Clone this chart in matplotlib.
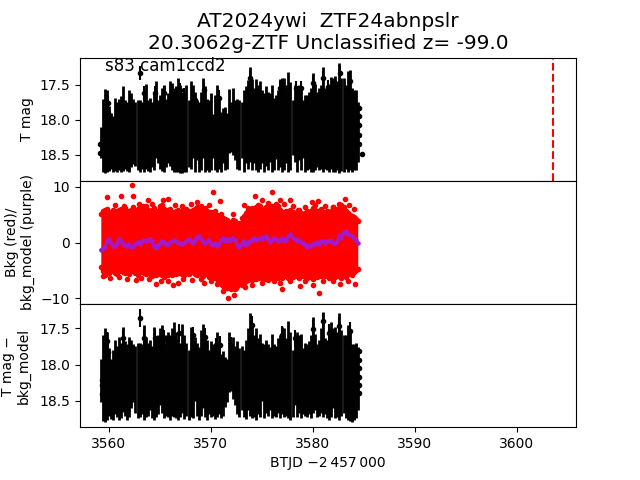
import matplotlib
matplotlib.use("Agg")
import matplotlib.pyplot as plt
import numpy as np

btjd = [
    3559.2, 3559.4, 3559.6, 3559.8, 3560.0, 3560.2, 3560.4, 3560.6, 3560.8, 3561.0,
    3561.2, 3561.4, 3561.6, 3561.8, 3562.0, 3562.2, 3562.4, 3562.6, 3562.8, 3563.0,
    3563.2, 3563.4, 3563.6, 3563.8, 3564.0, 3564.2, 3564.4, 3564.6, 3564.8, 3565.0,
    3565.2, 3565.4, 3565.6, 3565.8, 3566.0, 3566.2, 3566.4, 3566.6, 3566.8, 3567.0,
    3567.2, 3567.4, 3567.6, 3567.8, 3568.0, 3568.2, 3568.4, 3568.6, 3568.8, 3569.0,
    3569.2, 3569.4, 3569.6, 3569.8, 3570.0, 3570.2, 3570.4, 3570.6, 3570.8, 3571.0,
    3571.2, 3571.4, 3571.6, 3571.8, 3572.0, 3572.2, 3572.4, 3572.6, 3572.8, 3573.0,
    3573.2, 3573.4, 3573.6, 3573.8, 3574.0, 3574.2, 3574.4, 3574.6, 3574.8, 3575.0,
    3575.2, 3575.4, 3575.6, 3575.8, 3576.0, 3576.2, 3576.4, 3576.6, 3576.8, 3577.0,
    3577.2, 3577.4, 3577.6, 3577.8, 3578.0, 3578.2, 3578.4, 3578.6, 3578.8, 3579.0,
    3579.2, 3579.4, 3579.6, 3579.8, 3580.0, 3580.2, 3580.4, 3580.6, 3580.8, 3581.0,
    3581.2, 3581.4, 3581.6, 3581.8, 3582.0, 3582.2, 3582.4, 3582.6, 3582.8, 3583.0,
    3583.2, 3583.4, 3583.6, 3583.8, 3584.0, 3584.2, 3584.4,
]

# top panel: error bar extents
tmag_hi = [
    18.10, 17.70, 17.56, 17.58, 17.80, 17.90, 17.95, 17.68, 17.75, 17.70,
    17.66, 17.52, 17.72, 17.75, 17.58, 17.62, 17.70, 17.75, 17.72, 17.72,
    17.75, 17.60, 17.48, 17.72, 17.68, 17.75, 17.60, 17.45, 17.72, 17.65,
    17.55, 17.50, 17.70, 17.62, 17.45, 17.47, 17.55, 17.52, 17.40, 17.50,
    17.60, 17.65, 17.50, 17.72, 17.45, 17.50, 17.60, 17.72, 17.75, 17.60,
    17.40, 17.52, 17.70, 17.72, 17.62, 17.92, 17.65, 17.50, 17.68, 17.88,
    17.83, 17.82, 17.90, 17.56, 17.75, 17.55, 17.72, 17.70, 17.72, 17.75,
    17.58, 17.52, 17.43, 17.25, 17.42, 17.55, 17.42, 17.50, 17.45, 17.58,
    17.62, 17.52, 17.60, 17.62, 17.50, 17.68, 17.65, 17.58, 17.42, 17.40,
    17.40, 17.50, 17.32, 17.46, 17.72, 17.50, 17.55, 17.50, 17.55, 17.72,
    17.65, 17.65, 17.60, 17.55, 17.33, 17.48, 17.60, 17.55, 17.50, 17.25,
    17.55, 17.55, 17.48, 17.38, 17.40, 17.38, 17.45, 17.18, 17.40, 17.40,
    17.50, 17.30, 17.28, 17.55, 17.57, 17.58, 17.75,
]
tmag_lo = [
    18.55, 18.74, 18.76, 18.74, 18.73, 18.70, 18.74, 18.73, 18.75, 18.72,
    18.74, 18.73, 18.70, 18.73, 18.74, 18.68, 18.63, 18.66, 18.72, 18.74,
    18.70, 18.74, 18.70, 18.73, 18.74, 18.68, 18.72, 18.55, 18.62, 18.70,
    18.73, 18.74, 18.68, 18.62, 18.66, 18.72, 18.75, 18.74, 18.75, 18.76,
    18.76, 18.75, 18.74, 18.68, 18.70, 18.55, 18.74, 18.58, 18.74, 18.72,
    18.55, 18.74, 18.72, 18.75, 18.72, 18.55, 18.72, 18.75, 18.70, 18.74,
    18.62, 18.72, 18.70, 18.47, 18.46, 18.50, 18.58, 18.70, 18.72, 18.55,
    18.74, 18.62, 18.70, 18.60, 18.72, 18.62, 18.72, 18.74, 18.70, 18.62,
    18.75, 18.66, 18.72, 18.60, 18.74, 18.72, 18.56, 18.72, 18.68, 18.75,
    18.72, 18.62, 18.74, 18.72, 18.50, 18.60, 18.74, 18.58, 18.72, 18.55,
    18.74, 18.72, 18.70, 18.74, 18.75, 18.72, 18.68, 18.72, 18.70, 18.74,
    18.70, 18.72, 18.74, 18.70, 18.74, 18.75, 18.72, 18.76, 18.73, 18.74,
    18.70, 18.75, 18.72, 18.74, 18.72, 18.72, 18.60,
]
top_pt_t = [3563.0, 3563.4, 3564.5, 3565.4, 3567.0, 3567.4, 3559.9, 3559.9, 3569.3, 3570.8,
            3573.8, 3568.4, 3576.8, 3581.0, 3580.0, 3582.7, 3583.6, 3578.3, 3578.8, 3581.5,
            3559.1, 3559.1, 3584.5, 3584.5, 3584.5, 3584.5, 3584.5, 3584.8]
top_pt_m = [17.33, 17.61, 17.61, 17.61, 17.57, 17.65, 17.76, 17.90, 17.57, 17.68,
            17.40, 17.71, 17.54, 17.40, 17.47, 17.33, 17.45, 17.54, 17.54, 17.53,
            18.35, 18.47, 17.83, 17.95, 18.07, 18.21, 18.35, 18.48]
top_pt_e = [0.10, 0.10, 0.10, 0.10, 0.10, 0.10, 0.10, 0.10, 0.10, 0.10,
            0.10, 0.10, 0.10, 0.10, 0.10, 0.10, 0.10, 0.10, 0.10, 0.10,
            0.0, 0.0, 0.0, 0.0, 0.0, 0.0, 0.0, 0.0]

# middle panel: extent of the red cloud, stray points, model
bkg_hi = [
    5.2, 5.6, 5.9, 6.0, 5.5, 5.3, 5.8, 5.4, 5.6, 5.8,
    6.1, 5.5, 6.2, 5.7, 5.4, 5.9, 6.3, 5.6, 6.0, 6.3,
    5.7, 6.0, 6.6, 5.9, 5.6, 5.8, 6.2, 5.4, 5.7, 6.4,
    6.8, 6.0, 5.6, 5.8, 6.1, 5.5, 5.2, 5.6, 5.9, 5.4,
    5.7, 5.9, 6.1, 5.6, 5.4, 5.8, 6.0, 6.3, 5.7, 5.5,
    5.9, 6.2, 5.6, 5.3, 5.5, 5.2, 5.6, 5.0, 4.6, 5.1,
    4.4, 4.2, 4.0, 3.7, 3.6, 4.0, 3.8, 3.4, 3.6, 4.4,
    4.8, 5.4, 5.9, 5.5, 6.2, 5.8, 6.4, 5.9, 6.6, 6.1,
    5.6, 6.3, 6.7, 6.0, 6.5, 5.8, 6.2, 6.6, 5.9, 5.5,
    5.2, 5.6, 5.4, 5.8, 5.5, 5.1, 5.4, 5.9, 5.3, 5.0,
    5.4, 5.7, 5.2, 5.6, 6.2, 5.8, 5.3, 5.6, 6.0, 5.5,
    5.2, 5.6, 5.0, 5.6, 6.4, 6.0, 5.5, 6.2, 6.8, 6.3,
    5.7, 5.4, 5.0, 4.8, 4.6, 4.2, 3.8,
]
bkg_lo = [
    -4.4, -5.2, -5.8, -5.0, -5.5, -5.2, -4.9, -5.4, -5.6, -5.1,
    -4.8, -5.3, -5.5, -5.0, -5.6, -5.2, -4.8, -5.5, -5.8, -5.3,
    -5.0, -5.4, -5.6, -5.1, -5.7, -6.0, -5.4, -5.8, -5.2, -5.6,
    -5.9, -6.2, -5.5, -5.8, -5.4, -5.9, -5.3, -5.7, -5.5, -5.2,
    -5.6, -5.9, -5.4, -5.7, -5.3, -5.0, -5.6, -5.8, -5.3, -5.6,
    -6.0, -5.5, -5.7, -6.2, -5.9, -6.4, -6.0, -6.6, -6.9, -7.4,
    -7.8, -7.6, -8.2, -8.0, -8.4, -8.0, -8.3, -7.8, -7.5, -7.7,
    -7.2, -7.0, -6.8, -6.5, -6.8, -6.3, -6.6, -6.2, -6.4, -6.0,
    -6.5, -6.2, -6.7, -6.0, -6.4, -6.1, -5.8, -6.3, -6.0, -6.4,
    -5.8, -6.1, -6.4, -5.9, -6.2, -5.8, -6.0, -6.4, -5.7, -6.1,
    -5.8, -6.3, -5.9, -6.2, -6.5, -5.8, -6.2, -5.7, -6.0, -5.6,
    -6.1, -5.8, -6.3, -5.6, -6.0, -6.2, -5.7, -6.1, -6.3, -5.8,
    -6.2, -5.7, -5.5, -5.9, -5.3, -5.0, -4.8,
]
bkg_pt_t = [3562.25, 3559.8, 3561.2, 3562.4, 3563.8, 3565.3, 3565.8, 3570.2, 3570.9, 3568.6,
            3576.0, 3574.3, 3575.0, 3573.2, 3572.2, 3577.8, 3576.8, 3579.9, 3580.5, 3583.1,
            3578.5, 3559.4, 3562.7, 3564.6, 3566.3, 3566.8, 3565.8, 3569.3, 3571.2, 3571.7,
            3572.3, 3572.5, 3580.6, 3577.0, 3576.8, 3578.7, 3580.0, 3582.7, 3584.1, 3572.5,
            3560.6, 3561.5, 3562.9, 3563.3, 3564.2, 3565.0, 3566.5, 3567.2, 3568.0, 3569.0,
            3569.8, 3573.6, 3574.6, 3575.6, 3576.4, 3577.2, 3578.0, 3579.2, 3580.2, 3581.2,
            3582.0, 3582.6, 3583.5, 3584.0,
            3560.1, 3561.0, 3561.8, 3563.1, 3563.9, 3565.1, 3567.3, 3568.1, 3569.0, 3570.0,
            3570.6, 3573.3, 3574.0, 3575.0, 3576.2, 3577.8, 3579.2, 3581.0, 3582.0, 3583.4]
bkg_pt_v = [10.3, 8.1, 8.3, 8.3, 7.7, 7.7, 7.9, 9.0, 7.4, 7.2,
            9.0, 8.3, 7.7, 6.7, 5.2, 7.6, 7.6, 7.2, 7.4, 7.9,
            5.8, -6.0, -6.7, -7.4, -7.7, -7.2, -7.0, -7.2, -8.8, -9.9,
            -9.4, -8.1, -9.0, -8.3, -7.2, -7.9, -7.7, -7.4, -7.4, -7.9,
            6.8, 6.6, 7.0, 6.5, 6.9, 6.6, 6.8, 6.5, 6.9, 6.6,
            6.8, 6.2, 6.8, 7.1, 6.9, 6.9, 6.6, 6.3, 6.8, 6.5,
            6.4, 6.9, 6.8, 6.1,
            -6.3, -6.2, -6.5, -6.4, -6.5, -7.0, -6.6, -6.8, -6.6, -6.9,
            -7.4, -8.0, -7.6, -7.2, -7.0, -7.0, -7.0, -6.9, -7.0, -6.9]
bkg_model = [
    -1.3, -1.0, -0.8, 0.3, 0.7, 0.0, -0.6, -0.7, 0.0, 0.6,
    0.2, -0.3, -0.5, -0.6, -0.3, -0.8, -0.6, -0.2, 0.1, -0.2,
    0.2, 0.4, 0.2, 0.5, 0.6, 0.3, -0.6, -0.9, -0.4, -0.1,
    0.3, 0.1, -0.4, -0.3, 0.1, 0.3, 0.5, 0.3, 0.0, -0.1,
    -0.3, 0.0, 0.3, 0.6, 0.2, -0.1, 0.4, 1.0, 1.2, 0.6,
    0.1, -0.1, 0.2, 0.5, -0.2, -0.5, -0.1, -0.7, -0.3, 0.5,
    0.9, 0.3, 0.7, 0.2, 0.6, 0.9, 0.4, -0.4, -0.8, -0.2,
    0.3, -0.5, 0.0, 0.3, 0.5, 0.8, 0.4, 0.6, 0.9, 0.7,
    1.0, 1.2, 0.6, 0.1, 0.4, 0.9, 0.6, 0.3, 0.5, 0.8,
    0.3, 0.5, 1.2, 1.5, 0.9, 0.7, 0.3, 0.5, 0.1, -0.1,
    -0.5, -0.8, -0.4, -0.7, -0.2, -0.3, 0.1, -0.2, 0.3, 0.2,
    -0.1, 0.2, 0.3, 0.4, 0.0, -0.1, 0.3, 1.3, 0.8, 1.8,
    2.1, 1.6, 1.4, 1.1, 0.8, 0.4, -0.1,
]

# bottom panel: error bar extents
tsub_hi = [
    17.92, 17.60, 17.50, 17.56, 17.78, 17.92, 17.80, 17.66, 17.74, 17.62,
    17.70, 17.48, 17.68, 17.72, 17.62, 17.66, 17.72, 17.75, 17.70, 17.70,
    17.72, 17.46, 17.62, 17.70, 17.66, 17.74, 17.48, 17.66, 17.60, 17.50,
    17.46, 17.72, 17.60, 17.55, 17.60, 17.50, 17.42, 17.55, 17.65, 17.70,
    17.45, 17.60, 17.70, 17.80, 17.48, 17.68, 17.62, 17.70, 17.76, 17.52,
    17.45, 17.60, 17.66, 17.80, 17.68, 17.72, 17.70, 17.55, 17.72, 17.85,
    17.82, 17.90, 17.92, 17.55, 17.78, 17.62, 17.74, 17.68, 17.78, 17.74,
    17.80, 17.66, 17.50, 17.30, 17.46, 17.60, 17.50, 17.64, 17.58, 17.70,
    17.72, 17.66, 17.72, 17.76, 17.58, 17.72, 17.75, 17.64, 17.60, 17.48,
    17.50, 17.64, 17.40, 17.56, 17.80, 17.62, 17.55, 17.60, 17.58, 17.78,
    17.70, 17.72, 17.68, 17.60, 17.35, 17.58, 17.72, 17.66, 17.50, 17.28,
    17.64, 17.66, 17.50, 17.42, 17.50, 17.48, 17.55, 17.30, 17.52, 17.60,
    17.60, 17.46, 17.52, 17.72, 17.72, 17.70, 17.76,
]
tsub_lo = [
    18.52, 18.78, 18.79, 18.76, 18.70, 18.75, 18.76, 18.68, 18.72, 18.76,
    18.74, 18.65, 18.70, 18.76, 18.72, 18.60, 18.52, 18.66, 18.74, 18.72,
    18.68, 18.76, 18.72, 18.70, 18.62, 18.74, 18.76, 18.72, 18.68, 18.56,
    18.66, 18.74, 18.70, 18.72, 18.76, 18.70, 18.72, 18.74, 18.76, 18.72,
    18.66, 18.75, 18.70, 18.76, 18.72, 18.74, 18.50, 18.70, 18.76, 18.70,
    18.60, 18.72, 18.76, 18.68, 18.72, 18.70, 18.75, 18.72, 18.68, 18.74,
    18.70, 18.58, 18.52, 18.38, 18.36, 18.48, 18.55, 18.68, 18.72, 18.62,
    18.72, 18.75, 18.62, 18.70, 18.74, 18.72, 18.76, 18.68, 18.72, 18.50,
    18.74, 18.66, 18.70, 18.62, 18.74, 18.70, 18.72, 18.66, 18.74, 18.68,
    18.72, 18.70, 18.74, 18.76, 18.72, 18.56, 18.72, 18.66, 18.74, 18.68,
    18.70, 18.72, 18.68, 18.74, 18.66, 18.62, 18.72, 18.70, 18.66, 18.72,
    18.68, 18.74, 18.76, 18.72, 18.60, 18.74, 18.72, 18.76, 18.70, 18.66,
    18.74, 18.76, 18.78, 18.79, 18.76, 18.74, 18.62,
]
bot_pt_t = [3563.0, 3559.8, 3559.9, 3563.4, 3561.4, 3564.5, 3565.4, 3566.9, 3568.2, 3569.4,
            3570.5, 3570.9, 3572.0, 3574.0, 3577.0, 3581.0, 3580.0, 3582.6, 3583.6, 3578.2,
            3581.6, 3559.3, 3559.3, 3559.3, 3584.5, 3584.5, 3584.5, 3584.5, 3584.5, 3584.5]
bot_pt_m = [17.36, 17.68, 17.83, 17.64, 17.64, 17.64, 17.64, 17.57, 17.60, 17.62,
            17.76, 17.73, 17.74, 17.46, 17.59, 17.41, 17.51, 17.47, 17.54, 17.64,
            17.57, 18.21, 18.28, 18.41, 17.82, 17.94, 18.05, 18.17, 18.28, 18.39]
bot_pt_e = [0.12, 0.12, 0.12, 0.12, 0.12, 0.12, 0.12, 0.12, 0.12, 0.12,
            0.12, 0.12, 0.12, 0.12, 0.12, 0.12, 0.12, 0.12, 0.12, 0.12,
            0.12, 0.0, 0.0, 0.0, 0.0, 0.0, 0.0, 0.0, 0.0, 0.0]

disc_time = 3603.5
title = "AT2024ywi  ZTF24abnpslr\n20.3062g-ZTF Unclassified z= -99.0"
field_label = "s83 cam1ccd2"

t = np.array(btjd)


def draw_mags(ax, hi, lo, pt_t, pt_m, pt_e):
    hi = np.array(hi)
    lo = np.array(lo)
    ax.errorbar(t, (hi + lo) / 2, yerr=(lo - hi) / 2, fmt="none", ecolor="k", elinewidth=2)
    ax.errorbar(pt_t, pt_m, yerr=pt_e, fmt="k.", ecolor="k")
    ax.invert_yaxis()


fig, axes = plt.subplots(3, 1, sharex=True, figsize=(6.4, 4.8))
fig.subplots_adjust(hspace=0)
ax1, ax2, ax3 = axes

draw_mags(ax1, tmag_hi, tmag_lo, top_pt_t, top_pt_m, top_pt_e)
ax1.axvline(disc_time, color="r", ls="--")
ax1.set_ylim(18.87, 17.11)
ax1.set_yticks([17.5, 18.0, 18.5])
ax1.set_ylabel("T mag")
ax1.text(0.05, 0.89, field_label, transform=ax1.transAxes, fontsize=12)
ax1.set_title(title, fontsize=14.5)

ax2.fill_between(t, bkg_lo, bkg_hi, color="r", lw=0)
ax2.plot(t, bkg_hi, "r.", ls="none")
ax2.plot(t, bkg_lo, "r.", ls="none")
ax2.plot(bkg_pt_t, bkg_pt_v, "r.", ls="none")
ax2.plot(t, bkg_model, color="#a31acb", marker=".", ms=4.5, lw=2)
ax2.set_ylim(-11.05, 11.1)
ax2.set_yticks([-10, 0, 10])
ax2.set_ylabel("Bkg (red)/\nbkg_model (purple)")

draw_mags(ax3, tsub_hi, tsub_lo, bot_pt_t, bot_pt_m, bot_pt_e)
ax3.set_ylim(18.86, 17.17)
ax3.set_yticks([17.5, 18.0, 18.5])
ax3.set_ylabel("T mag \u2212\nbkg_model", labelpad=6)

ax3.set_xlim(3557.16, 3605.8)
ax3.set_xticks([3560, 3570, 3580, 3590, 3600])
ax3.set_xlabel("BTJD \u22122\u2009457\u2009000")
for ax in (ax1, ax2):
    ax.tick_params(axis="x", bottom=False)

fig.savefig("out.png", dpi=100)
